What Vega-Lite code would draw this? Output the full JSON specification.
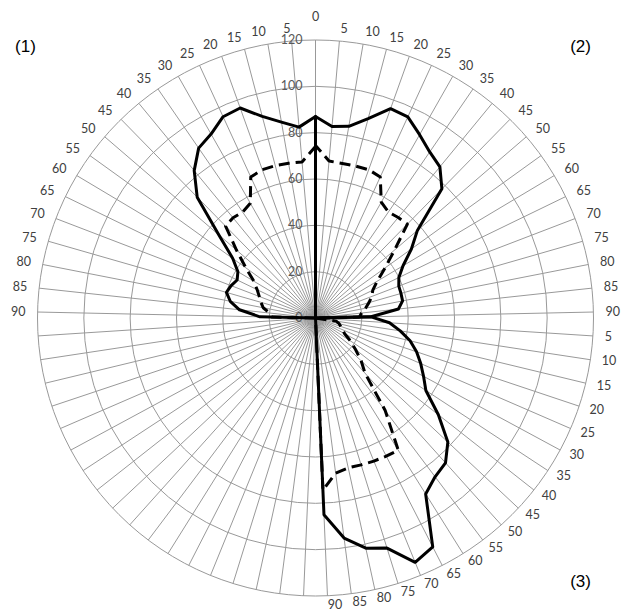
{
  "$schema": "https://vega.github.io/schema/vega-lite/v6.json",
  "width": 556,
  "height": 556,
  "autosize": {"type": "none"},
  "padding": {"left": 37.5, "top": 40, "right": 35.5, "bottom": 16},
  "background": "white",
  "config": {"view": {"stroke": null}},
  "datasets": {
    "spokes": [
      {"spoke":0,"label":"0"},{"spoke":1,"label":"5"},{"spoke":2,"label":"10"},{"spoke":3,"label":"15"},{"spoke":4,"label":"20"},{"spoke":5,"label":"25"},{"spoke":6,"label":"30"},{"spoke":7,"label":"35"},{"spoke":8,"label":"40"},{"spoke":9,"label":"45"},{"spoke":10,"label":"50"},{"spoke":11,"label":"55"},{"spoke":12,"label":"60"},{"spoke":13,"label":"65"},{"spoke":14,"label":"70"},{"spoke":15,"label":"75"},{"spoke":16,"label":"80"},{"spoke":17,"label":"85"},{"spoke":18,"label":"90"},
      {"spoke":19,"label":"5"},{"spoke":20,"label":"10"},{"spoke":21,"label":"15"},{"spoke":22,"label":"20"},{"spoke":23,"label":"25"},{"spoke":24,"label":"30"},{"spoke":25,"label":"35"},{"spoke":26,"label":"40"},{"spoke":27,"label":"45"},{"spoke":28,"label":"50"},{"spoke":29,"label":"55"},{"spoke":30,"label":"60"},{"spoke":31,"label":"65"},{"spoke":32,"label":"70"},{"spoke":33,"label":"75"},{"spoke":34,"label":"80"},{"spoke":35,"label":"85"},{"spoke":36,"label":"90"},
      {"spoke":37,"label":""},{"spoke":38,"label":""},{"spoke":39,"label":""},{"spoke":40,"label":""},{"spoke":41,"label":""},{"spoke":42,"label":""},{"spoke":43,"label":""},{"spoke":44,"label":""},{"spoke":45,"label":""},{"spoke":46,"label":""},{"spoke":47,"label":""},{"spoke":48,"label":""},{"spoke":49,"label":""},{"spoke":50,"label":""},{"spoke":51,"label":""},{"spoke":52,"label":""},{"spoke":53,"label":""},{"spoke":54,"label":""},
      {"spoke":55,"label":"90"},{"spoke":56,"label":"85"},{"spoke":57,"label":"80"},{"spoke":58,"label":"75"},{"spoke":59,"label":"70"},{"spoke":60,"label":"65"},{"spoke":61,"label":"60"},{"spoke":62,"label":"55"},{"spoke":63,"label":"50"},{"spoke":64,"label":"45"},{"spoke":65,"label":"40"},{"spoke":66,"label":"35"},{"spoke":67,"label":"30"},{"spoke":68,"label":"25"},{"spoke":69,"label":"20"},{"spoke":70,"label":"15"},{"spoke":71,"label":"10"},{"spoke":72,"label":"5"}
    ],
    "rings": [{"r":20},{"r":40},{"r":60},{"r":80},{"r":100},{"r":120}],
    "ticks": [{"r":0},{"r":20},{"r":40},{"r":60},{"r":80},{"r":100},{"r":120}],
    "notes": [{"text":"(1)","ax":-125.2,"ay":117},{"text":"(2)","ax":114.4,"ay":117},{"text":"(3)","ax":114.4,"ay":-114}],
    "series": [
      {"series":"solid 1","line":"solid","spoke":54,"value":0},{"series":"solid 1","line":"solid","spoke":55,"value":24},{"series":"solid 1","line":"solid","spoke":56,"value":33},{"series":"solid 1","line":"solid","spoke":57,"value":37.5},{"series":"solid 1","line":"solid","spoke":58,"value":40},{"series":"solid 1","line":"solid","spoke":59,"value":39},{"series":"solid 1","line":"solid","spoke":60,"value":37.6},{"series":"solid 1","line":"solid","spoke":61,"value":39},{"series":"solid 1","line":"solid","spoke":62,"value":44},{"series":"solid 1","line":"solid","spoke":63,"value":55},{"series":"solid 1","line":"solid","spoke":64,"value":73},{"series":"solid 1","line":"solid","spoke":65,"value":82.4},{"series":"solid 1","line":"solid","spoke":66,"value":89},{"series":"solid 1","line":"solid","spoke":67,"value":91.3},{"series":"solid 1","line":"solid","spoke":68,"value":95.6},{"series":"solid 1","line":"solid","spoke":69,"value":96.3},{"series":"solid 1","line":"solid","spoke":70,"value":90},{"series":"solid 1","line":"solid","spoke":71,"value":85.8},{"series":"solid 1","line":"solid","spoke":72,"value":82.7},{"series":"solid 1","line":"solid","spoke":73,"value":87},{"series":"solid 1","line":"solid","spoke":74,"value":0},
      {"series":"solid 2","line":"solid","spoke":-1,"value":0},{"series":"solid 2","line":"solid","spoke":0,"value":87},{"series":"solid 2","line":"solid","spoke":1,"value":83},{"series":"solid 2","line":"solid","spoke":2,"value":84},{"series":"solid 2","line":"solid","spoke":3,"value":89},{"series":"solid 2","line":"solid","spoke":4,"value":96},{"series":"solid 2","line":"solid","spoke":5,"value":95.5},{"series":"solid 2","line":"solid","spoke":6,"value":91},{"series":"solid 2","line":"solid","spoke":7,"value":87},{"series":"solid 2","line":"solid","spoke":8,"value":84.5},{"series":"solid 2","line":"solid","spoke":9,"value":78},{"series":"solid 2","line":"solid","spoke":10,"value":58},{"series":"solid 2","line":"solid","spoke":11,"value":51},{"series":"solid 2","line":"solid","spoke":12,"value":44},{"series":"solid 2","line":"solid","spoke":13,"value":40},{"series":"solid 2","line":"solid","spoke":14,"value":38.5},{"series":"solid 2","line":"solid","spoke":15,"value":38.4},{"series":"solid 2","line":"solid","spoke":16,"value":38.3},{"series":"solid 2","line":"solid","spoke":17,"value":36},{"series":"solid 2","line":"solid","spoke":18,"value":24},{"series":"solid 2","line":"solid","spoke":19,"value":0},
      {"series":"solid 3","line":"solid","spoke":17,"value":0},{"series":"solid 3","line":"solid","spoke":18,"value":24},{"series":"solid 3","line":"solid","spoke":19,"value":32},{"series":"solid 3","line":"solid","spoke":20,"value":37},{"series":"solid 3","line":"solid","spoke":21,"value":42},{"series":"solid 3","line":"solid","spoke":22,"value":46},{"series":"solid 3","line":"solid","spoke":23,"value":49.5},{"series":"solid 3","line":"solid","spoke":24,"value":53},{"series":"solid 3","line":"solid","spoke":25,"value":57},{"series":"solid 3","line":"solid","spoke":26,"value":67.5},{"series":"solid 3","line":"solid","spoke":27,"value":78.3},{"series":"solid 3","line":"solid","spoke":28,"value":84},{"series":"solid 3","line":"solid","spoke":29,"value":85.8},{"series":"solid 3","line":"solid","spoke":30,"value":89.6},{"series":"solid 3","line":"solid","spoke":31,"value":111},{"series":"solid 3","line":"solid","spoke":32,"value":113.9},{"series":"solid 3","line":"solid","spoke":33,"value":104},{"series":"solid 3","line":"solid","spoke":34,"value":101.7},{"series":"solid 3","line":"solid","spoke":35,"value":95.8},{"series":"solid 3","line":"solid","spoke":36,"value":85},{"series":"solid 3","line":"solid","spoke":37,"value":0},
      {"series":"dashed 1","line":"dashed","spoke":54,"value":0},{"series":"dashed 1","line":"dashed","spoke":55,"value":19},{"series":"dashed 1","line":"dashed","spoke":56,"value":20},{"series":"dashed 1","line":"dashed","spoke":57,"value":23},{"series":"dashed 1","line":"dashed","spoke":58,"value":24.5},{"series":"dashed 1","line":"dashed","spoke":59,"value":26},{"series":"dashed 1","line":"dashed","spoke":60,"value":28},{"series":"dashed 1","line":"dashed","spoke":61,"value":31},{"series":"dashed 1","line":"dashed","spoke":62,"value":37},{"series":"dashed 1","line":"dashed","spoke":63,"value":45},{"series":"dashed 1","line":"dashed","spoke":64,"value":55.5},{"series":"dashed 1","line":"dashed","spoke":65,"value":56},{"series":"dashed 1","line":"dashed","spoke":66,"value":55.5},{"series":"dashed 1","line":"dashed","spoke":67,"value":57},{"series":"dashed 1","line":"dashed","spoke":68,"value":67},{"series":"dashed 1","line":"dashed","spoke":69,"value":68},{"series":"dashed 1","line":"dashed","spoke":70,"value":68},{"series":"dashed 1","line":"dashed","spoke":71,"value":67.8},{"series":"dashed 1","line":"dashed","spoke":72,"value":67.6},{"series":"dashed 1","line":"dashed","spoke":73,"value":74},{"series":"dashed 1","line":"dashed","spoke":74,"value":0},
      {"series":"dashed 2","line":"dashed","spoke":-1,"value":0},{"series":"dashed 2","line":"dashed","spoke":0,"value":74.5},{"series":"dashed 2","line":"dashed","spoke":1,"value":68},{"series":"dashed 2","line":"dashed","spoke":2,"value":67.7},{"series":"dashed 2","line":"dashed","spoke":3,"value":67.8},{"series":"dashed 2","line":"dashed","spoke":4,"value":68},{"series":"dashed 2","line":"dashed","spoke":5,"value":67},{"series":"dashed 2","line":"dashed","spoke":6,"value":57.5},{"series":"dashed 2","line":"dashed","spoke":7,"value":55.5},{"series":"dashed 2","line":"dashed","spoke":8,"value":56.2},{"series":"dashed 2","line":"dashed","spoke":9,"value":56.7},{"series":"dashed 2","line":"dashed","spoke":10,"value":45},{"series":"dashed 2","line":"dashed","spoke":11,"value":37},{"series":"dashed 2","line":"dashed","spoke":12,"value":31},{"series":"dashed 2","line":"dashed","spoke":13,"value":27.5},{"series":"dashed 2","line":"dashed","spoke":14,"value":26},{"series":"dashed 2","line":"dashed","spoke":15,"value":24},{"series":"dashed 2","line":"dashed","spoke":16,"value":22},{"series":"dashed 2","line":"dashed","spoke":17,"value":20},{"series":"dashed 2","line":"dashed","spoke":18,"value":19},{"series":"dashed 2","line":"dashed","spoke":19,"value":0},
      {"series":"dashed 3","line":"dashed","spoke":19,"value":0},{"series":"dashed 3","line":"dashed","spoke":20,"value":9},{"series":"dashed 3","line":"dashed","spoke":21,"value":10.5},{"series":"dashed 3","line":"dashed","spoke":22,"value":11.5},{"series":"dashed 3","line":"dashed","spoke":23,"value":12.7},{"series":"dashed 3","line":"dashed","spoke":24,"value":14.3},{"series":"dashed 3","line":"dashed","spoke":25,"value":18},{"series":"dashed 3","line":"dashed","spoke":26,"value":22},{"series":"dashed 3","line":"dashed","spoke":27,"value":27},{"series":"dashed 3","line":"dashed","spoke":28,"value":32},{"series":"dashed 3","line":"dashed","spoke":29,"value":50},{"series":"dashed 3","line":"dashed","spoke":30,"value":67.3},{"series":"dashed 3","line":"dashed","spoke":31,"value":67},{"series":"dashed 3","line":"dashed","spoke":32,"value":66.7},{"series":"dashed 3","line":"dashed","spoke":33,"value":66.4},{"series":"dashed 3","line":"dashed","spoke":34,"value":66.2},{"series":"dashed 3","line":"dashed","spoke":35,"value":67.5},{"series":"dashed 3","line":"dashed","spoke":36,"value":74.4},{"series":"dashed 3","line":"dashed","spoke":37,"value":0}
    ]
  },
  "layer": [
    {
      "data": {"name": "rings"},
      "mark": {"type": "point", "shape": "circle", "filled": false, "stroke": "#999999", "strokeWidth": 1, "opacity": 1},
      "encoding": {
        "x": {"datum": 0, "type": "quantitative", "scale": {"domain": [-120, 120], "nice": false, "zero": false}, "axis": null},
        "y": {"datum": 0, "type": "quantitative", "scale": {"domain": [-120, 120], "nice": false, "zero": false}, "axis": null},
        "size": {"field": "r", "type": "quantitative", "scale": {"type": "pow", "exponent": 2, "domain": [0, 120], "range": [0, 309136], "zero": true}, "legend": null}
      }
    },
    {
      "data": {"name": "spokes"},
      "transform": [
        {"calculate": "datum.spoke * 2 * PI / 73", "as": "a"},
        {"calculate": "120 * sin(datum.a)", "as": "sx"},
        {"calculate": "120 * cos(datum.a)", "as": "sy"}
      ],
      "mark": {"type": "rule", "stroke": "#999999", "strokeWidth": 1},
      "encoding": {
        "x": {"field": "sx", "type": "quantitative", "scale": {"domain": [-120, 120], "nice": false, "zero": false}, "axis": null},
        "y": {"field": "sy", "type": "quantitative", "scale": {"domain": [-120, 120], "nice": false, "zero": false}, "axis": null},
        "x2": {"datum": 0},
        "y2": {"datum": 0}
      }
    },
    {
      "data": {"name": "spokes"},
      "transform": [
        {"filter": "datum.spoke == 0"},
        {"calculate": "datum.spoke * 2 * PI / 73", "as": "a"},
        {"calculate": "125.2 * sin(datum.a)", "as": "lx"},
        {"calculate": "125.2 * cos(datum.a)", "as": "ly"}
      ],
      "mark": {"type": "text", "align": "center", "baseline": "bottom", "dy": -4, "font": "Lato", "fontSize": 12.5, "color": "#404040"},
      "encoding": {
        "x": {"field": "lx", "type": "quantitative", "scale": {"domain": [-120, 120], "nice": false, "zero": false}, "axis": null},
        "y": {"field": "ly", "type": "quantitative", "scale": {"domain": [-120, 120], "nice": false, "zero": false}, "axis": null},
        "text": {"field": "label"}
      }
    },
    {
      "data": {"name": "spokes"},
      "transform": [
        {"filter": "datum.spoke >= 1 && datum.spoke <= 36"},
        {"calculate": "datum.spoke * 2 * PI / 73", "as": "a"},
        {"calculate": "125.2 + 1.4 * min(0, cos(datum.a))", "as": "lr"},
        {"calculate": "datum.lr * sin(datum.a)", "as": "lx"},
        {"calculate": "datum.lr * cos(datum.a)", "as": "ly"}
      ],
      "mark": {"type": "text", "align": "left", "baseline": "middle", "font": "Lato", "fontSize": 12.5, "color": "#404040"},
      "encoding": {
        "x": {"field": "lx", "type": "quantitative", "scale": {"domain": [-120, 120], "nice": false, "zero": false}, "axis": null},
        "y": {"field": "ly", "type": "quantitative", "scale": {"domain": [-120, 120], "nice": false, "zero": false}, "axis": null},
        "text": {"field": "label"}
      }
    },
    {
      "data": {"name": "spokes"},
      "transform": [
        {"filter": "datum.spoke >= 55"},
        {"calculate": "datum.spoke * 2 * PI / 73", "as": "a"},
        {"calculate": "125.2 * sin(datum.a)", "as": "lx"},
        {"calculate": "125.2 * cos(datum.a)", "as": "ly"}
      ],
      "mark": {"type": "text", "align": "right", "baseline": "middle", "font": "Lato", "fontSize": 12.5, "color": "#404040"},
      "encoding": {
        "x": {"field": "lx", "type": "quantitative", "scale": {"domain": [-120, 120], "nice": false, "zero": false}, "axis": null},
        "y": {"field": "ly", "type": "quantitative", "scale": {"domain": [-120, 120], "nice": false, "zero": false}, "axis": null},
        "text": {"field": "label"}
      }
    },
    {
      "data": {"name": "ticks"},
      "mark": {"type": "text", "align": "right", "baseline": "middle", "dx": -13, "font": "Lato", "fontSize": 12.5, "color": "#595959"},
      "encoding": {
        "x": {"datum": 0, "type": "quantitative", "scale": {"domain": [-120, 120], "nice": false, "zero": false}, "axis": null},
        "y": {"field": "r", "type": "quantitative", "scale": {"domain": [-120, 120], "nice": false, "zero": false}, "axis": null},
        "text": {"field": "r", "type": "quantitative"}
      }
    },
    {
      "data": {"name": "series"},
      "transform": [
        {"filter": "datum.line == 'dashed'"},
        {"calculate": "datum.spoke * 2 * PI / 73", "as": "a"},
        {"calculate": "datum.value * sin(datum.a)", "as": "px"},
        {"calculate": "datum.value * cos(datum.a)", "as": "py"}
      ],
      "mark": {"type": "line", "color": "black", "strokeWidth": 3, "strokeDash": [11, 6], "strokeJoin": "round"},
      "encoding": {
        "x": {"field": "px", "type": "quantitative", "scale": {"domain": [-120, 120], "nice": false, "zero": false}, "axis": null},
        "y": {"field": "py", "type": "quantitative", "scale": {"domain": [-120, 120], "nice": false, "zero": false}, "axis": null},
        "detail": {"field": "series"},
        "order": {"field": "spoke", "type": "quantitative"}
      }
    },
    {
      "data": {"name": "series"},
      "transform": [
        {"filter": "datum.line == 'solid'"},
        {"calculate": "datum.spoke * 2 * PI / 73", "as": "a"},
        {"calculate": "datum.value * sin(datum.a)", "as": "px"},
        {"calculate": "datum.value * cos(datum.a)", "as": "py"}
      ],
      "mark": {"type": "line", "color": "black", "strokeWidth": 3, "strokeJoin": "round", "strokeCap": "round"},
      "encoding": {
        "x": {"field": "px", "type": "quantitative", "scale": {"domain": [-120, 120], "nice": false, "zero": false}, "axis": null},
        "y": {"field": "py", "type": "quantitative", "scale": {"domain": [-120, 120], "nice": false, "zero": false}, "axis": null},
        "detail": {"field": "series"},
        "order": {"field": "spoke", "type": "quantitative"}
      }
    },
    {
      "data": {"name": "notes"},
      "mark": {"type": "text", "align": "center", "baseline": "middle", "font": "Liberation Sans", "fontSize": 17, "color": "black"},
      "encoding": {
        "x": {"field": "ax", "type": "quantitative", "scale": {"domain": [-120, 120], "nice": false, "zero": false}, "axis": null},
        "y": {"field": "ay", "type": "quantitative", "scale": {"domain": [-120, 120], "nice": false, "zero": false}, "axis": null},
        "text": {"field": "text"}
      }
    }
  ]
}
